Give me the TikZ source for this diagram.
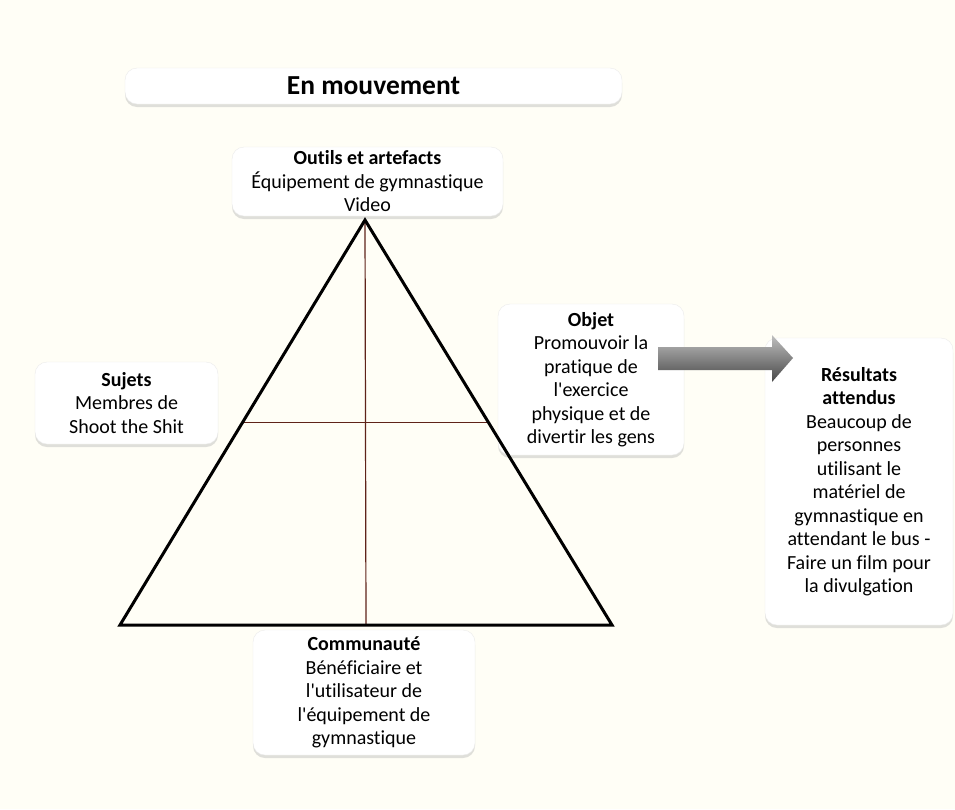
\documentclass[tikz,border=0pt]{standalone}
\usepackage{fontspec}
\setmainfont{Carlito}[Ligatures={TeXOff,CommonOff}]
\usetikzlibrary{calc,shadows}
\definecolor{fond}{RGB}{255,254,246}
\definecolor{trait}{RGB}{95,35,25}

\begin{document}
\begin{tikzpicture}[x=1pt, y=-1pt,
		cadre/.style={draw=black!8, fill=white, rounded corners=12pt, align=center, inner sep=0pt,
			drop shadow={shadow xshift=0pt, shadow yshift=-3pt, opacity=0.35, fill=black!35}},
		texte/.style={font=\fontsize{20}{23.5}\selectfont}]
		%%%%% START %%%%%
		
		\fill[fond] (0,0) rectangle (955,809);
		\useasboundingbox (0,0) rectangle (955,809);
		
		\node[cadre, minimum width=497pt, minimum height=36pt, font=\fontsize{27.5}{30}\selectfont\bfseries] (titre) at (373.5,86) {En mouvement};
		
		\node[cadre, texte, minimum width=271pt, minimum height=69pt] (outils) at (367.5,181.5) {\textbf{Outils et artefacts}\\ Équipement de gymnastique\\ Video};
		\node[cadre, texte, minimum width=183pt, minimum height=82pt] (sujets) at (126.5,403) {\textbf{Sujets}\\ Membres de\\ Shoot the Shit};
		\node[cadre, texte, minimum width=186pt, minimum height=151pt] (objet) at (591,379.5) {\textbf{Objet}\\ Promouvoir la\\ pratique de\\ l'exercice\\ physique et de\\ divertir les gens};
		\node[cadre, texte, minimum width=188pt, minimum height=287pt] (resultats) at (859,481.5) {\textbf{Résultats}\\ \textbf{attendus}\\ Beaucoup de\\ personnes\\ utilisant le\\ matériel de\\ gymnastique en\\ attendant le bus -\\ Faire un film pour\\ la divulgation};
		\node[cadre, texte, minimum width=222pt, minimum height=125pt] (communaute) at (364,692.5) {\textbf{Communauté}\\ Bénéficiaire et\\ l'utilisateur de\\ l'équipement de\\ gymnastique};
		
		% fleche vers les resultats
		\shade[top color=black!25, bottom color=black!72] (658,347) -- (772,347) -- (772,335) -- (793,358) -- (772,382) -- (772,370) -- (658,370) -- cycle;
		
		% triangle
		\coordinate (sommet) at (365,220);
		\coordinate (gauche) at (120,625);
		\coordinate (droite) at (612,625);
		\draw[trait, line width=1.2pt] (sommet) -- ($(gauche)!0.5!(droite)$);
		\draw[trait, line width=1.2pt] ($(sommet)!0.5!(gauche)$) -- ($(sommet)!0.5!(droite)$);
		\draw[line width=3pt] (sommet) -- (gauche) -- (droite) -- cycle;
		
		%%%%% END %%%%%
	\end{tikzpicture}
\end{document}
